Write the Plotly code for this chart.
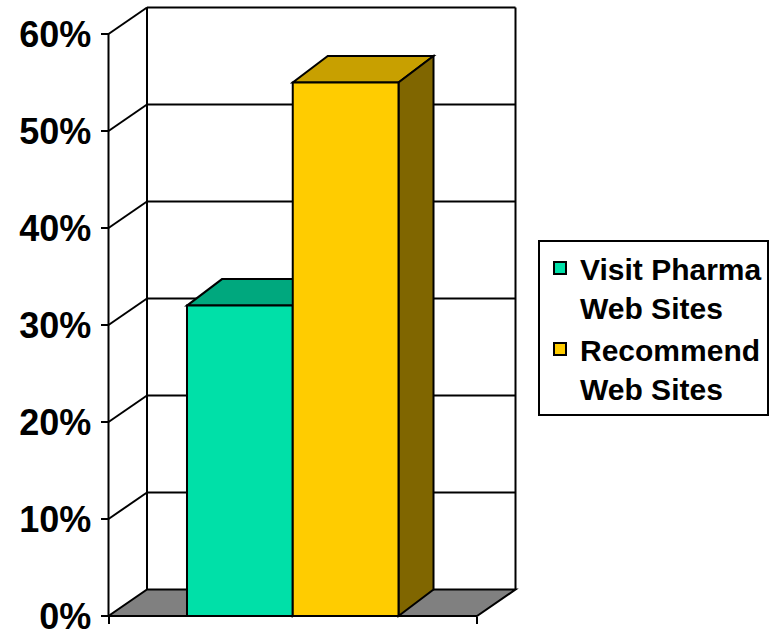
import plotly.graph_objects as go

# ---- data ----
series_names = ["Visit Pharma<br>Web Sites", "Recommend<br>Web Sites"]
series_values = [0.32, 0.55]
front_colors = ["#00E0A8", "#FFCC00"]
top_colors = ["#00A87E", "#C8A000"]
side_colors = ["#007F5F", "#806600"]
tick_vals = [0.0, 0.1, 0.2, 0.3, 0.4, 0.5, 0.6]
tick_text = ["0%", "10%", "20%", "30%", "40%", "50%", "60%"]

# ---- geometry (pixel mapping) ----
W, H = 781, 631
L, R, T, B = 100, 251, 2, 3
pw, ph = W - L - R, H - T - B
ax_px, cat_px = 108.5, 368.5          # front axis x pixel, category width px
zero_px, unit_px = 616.0, 970.0       # y pixel of 0, px per 1.0
xr = [-0.5 - (ax_px - L) / cat_px, -0.5 + (L + pw - ax_px) / cat_px]
yr = [-(T + ph - zero_px) / unit_px, (zero_px - T) / unit_px]
DX = 38.5 / cat_px    # wall depth offset (x)
DY = 26.5 / unit_px   # wall depth offset (y)
BDX = 35.0 / cat_px   # bar depth offset (x)
BW = 0.287            # bar width
ymax = tick_vals[-1]

fig = go.Figure()
shapes = []
LINE = dict(color="black", width=2)

def poly(pts, fill, line=LINE, layer="below"):
    d = "M " + " L ".join(f"{x},{y}" for x, y in pts) + " Z"
    return dict(type="path", path=d, xref="x", yref="y", fillcolor=fill,
                line=line, layer=layer)

def seg(x0, y0, x1, y1, layer="below"):
    return dict(type="line", x0=x0, y0=y0, x1=x1, y1=y1, xref="x", yref="y",
                line=LINE, layer=layer)

# floor
shapes.append(poly([(-0.5, 0), (0.5, 0), (0.5 + DX, DY), (-0.5 + DX, DY)], "#808080"))
# left side wall diagonals and back wall gridlines
for v in tick_vals[1:]:
    shapes.append(seg(-0.5, v, -0.5 + DX, v + DY))
    shapes.append(seg(-0.5 + DX, v + DY, 0.5 + DX, v + DY))
# back wall verticals
shapes.append(seg(-0.5 + DX, DY, -0.5 + DX, ymax + DY))
shapes.append(seg(0.5 + DX, DY, 0.5 + DX, ymax + DY))
# front axis line
shapes.append(seg(-0.5, 0, -0.5, ymax))

# bars: top and side faces
offsets = [-BW, 0.0]
for v, off, tc, sc in zip(series_values, offsets, top_colors, side_colors):
    x0, x1 = off, off + BW
    shapes.append(poly([(x0, v), (x1, v), (x1 + BDX, v + DY), (x0 + BDX, v + DY)], tc))
    shapes.append(poly([(x1, 0), (x1 + BDX, DY), (x1 + BDX, v + DY), (x1, v)], sc))

for name, v, off, fc in zip(series_names, series_values, offsets, front_colors):
    fig.add_trace(go.Bar(
        x=[0], y=[v], width=[BW], offset=[off], name=name,
        marker=dict(color=fc, line=dict(color="black", width=2)),
        hoverinfo="skip",
    ))

fig.update_layout(
    width=W, height=H, autosize=False,
    margin=dict(l=L, r=R, t=T, b=B, pad=0, autoexpand=False),
    paper_bgcolor="white", plot_bgcolor="rgba(0,0,0,0)",
    barmode="overlay",
    shapes=shapes,
    font=dict(family="Arial, Liberation Sans, sans-serif", color="black"),
    xaxis=dict(range=xr, showgrid=False, zeroline=False, showline=False,
               automargin=False,
               tickvals=[-0.5, 0.5], ticks="outside", ticklen=7, tickwidth=2,
               tickcolor="black", showticklabels=False,
               anchor="free", position=(T + ph - zero_px) / ph, fixedrange=True),
    yaxis=dict(range=yr, showgrid=False, zeroline=False, showline=False,
               automargin=False,
               tickvals=tick_vals, ticktext=tick_text, ticks="outside",
               ticklen=8, tickwidth=2, tickcolor="black",
               ticklabeloverflow="allow", ticklabelstandoff=2,
               tickfont=dict(size=36, weight="bold", color="black",
                             family="Arial, Liberation Sans, sans-serif"),
               anchor="free", position=(ax_px - L) / pw, fixedrange=True),
    legend=dict(x=(538 - L) / pw, y=(T + ph - 240) / ph, xanchor="left", yanchor="top",
                bordercolor="black", borderwidth=2, bgcolor="white",
                valign="top",
                font=dict(size=30, weight="bold", color="black",
                          family="Arial, Liberation Sans, sans-serif")),
    showlegend=True,
)

fig.write_html("out.html")
